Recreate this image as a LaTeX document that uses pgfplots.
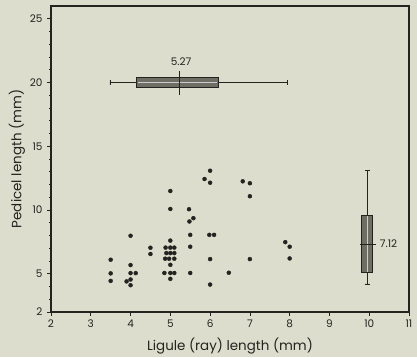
\documentclass[border=0pt]{standalone}
\usepackage{pgfplots}
\pgfplotsset{compat=1.18}
\usepgfplotslibrary{statistics}
\usepackage{fontspec}
\setmainfont{Poppins}
\definecolor{bg}{RGB}{221,221,205}
\definecolor{ink}{RGB}{35,35,32}
\definecolor{boxfill}{RGB}{110,110,100}
\pgfplotstableread{
x y
3.5 6.1
3.5 5.03
3.5 4.44
3.9 4.4
4.0 4.55
4.0 4.1
4.0 5.05
4.13 5.05
4.0 5.68
4.0 7.98
4.5 7.04
4.5 6.55
4.88 7.05
5.0 7.05
5.1 7.05
4.9 6.62
5.0 6.62
5.1 6.62
4.87 6.18
4.97 6.18
5.1 6.18
5.0 5.7
4.85 5.06
5.0 5.06
5.1 5.06
5.0 4.6
5.0 7.6
5.0 10.08
5.0 11.49
5.47 10.06
5.48 9.1
5.58 9.36
5.5 8.05
5.5 7.12
5.5 5.06
5.86 12.43
6.0 13.08
6.0 12.14
5.98 8.05
6.1 8.05
6.0 6.15
6.0 4.15
6.47 5.08
6.82 12.25
7.0 12.1
7.0 11.08
7.0 6.15
7.89 7.48
8.0 7.12
8.0 6.2
}\scatterdata
\begin{document}
\begin{tikzpicture}
\fill[bg] (-51bp,-45bp) rectangle (366bp,312bp);
\begin{axis}[
  at={(0,0)}, anchor=south west,
  scale only axis, width=358bp, height=306bp,
  xmin=2, xmax=11, ymin=2, ymax=26,
  xtick={2,...,11}, ytick={2,5,10,15,20,25},
  minor ytick={3,4,6,7,8,9,11,12,13,14,16,17,18,19,21,22,23,24},
  tick pos=left, tick align=outside,
  major tick length=4pt, minor tick length=2pt,
  axis line style={ink, line width=1.3pt},
  tick style={ink, line width=0.7pt},
  /pgf/number format/assume math mode=true,
  ticklabel style={font=\fontsize{10.5}{12}\selectfont, text=ink},
  xticklabel style={yshift=-0.5pt},
  yticklabel style={xshift=-1pt},
  xlabel={Ligule (ray) length (mm)},
  ylabel={Pedicel length (mm)},
  label style={font=\fontsize{13.5}{15}\selectfont, text=ink},
  xlabel style={at={(axis description cs:0.5,-0.112)}, anchor=center},
  ylabel style={at={(axis description cs:-0.095,0.5)}, anchor=center},
  clip=false,
]
\addplot[only marks, mark=*, mark size=2pt, ink] table[x=x,y=y] {\scatterdata};

% horizontal box plot (ligule length)
\addplot[draw=ink, fill=boxfill, line width=0.9pt,
  boxplot prepared={draw direction=x, draw position=20,
    median=5.23, lower quartile=4.15, upper quartile=6.21,
    lower whisker=3.48, upper whisker=7.95,
    box extend=0.83, whisker extend=0.35,
    every whisker/.style={line width=0.5pt}}] coordinates {};
\addplot[gray!40!white, line width=0.5pt] coordinates {(4.18,20) (6.18,20)};
\addplot[ink, line width=0.9pt] coordinates {(5.23,19.05) (5.23,20.9)};
\node[font=\fontsize{10.5}{12}\selectfont, text=ink] at (axis cs:5.27,21.6) {5.27};

% vertical box plot (pedicel length)
\addplot[draw=ink, fill=boxfill, line width=0.9pt,
  boxplot prepared={draw direction=y, draw position=9.95,
    median=7.32, lower quartile=5.08, upper quartile=9.6,
    lower whisker=4.2, upper whisker=13.13,
    box extend=0.27, whisker extend=0.12,
    every whisker/.style={line width=0.5pt}}] coordinates {};
\addplot[gray!40!white, line width=0.5pt] coordinates {(9.95,5.15) (9.95,9.53)};
\addplot[ink, line width=1.2pt] coordinates {(9.77,7.32) (10.17,7.32)};
\node[font=\fontsize{10.5}{12}\selectfont, text=ink, anchor=west] at (axis cs:10.18,7.35) {7.12};
\end{axis}
\end{tikzpicture}
\end{document}
